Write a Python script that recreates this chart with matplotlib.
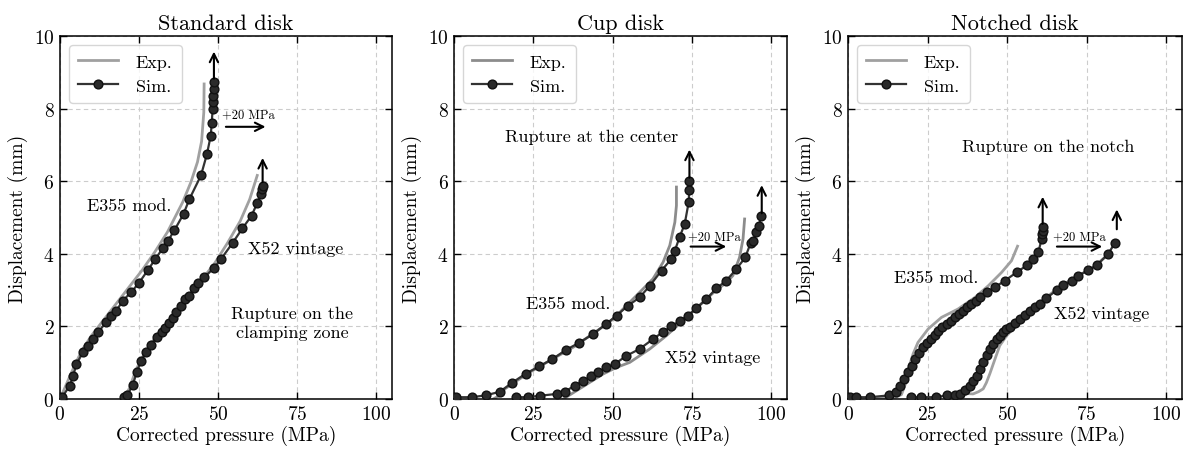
import matplotlib
matplotlib.use("Agg")
import matplotlib.pyplot as plt

plt.rcParams['font.family'] = ['cmr10', 'DejaVu Serif']
plt.rcParams['mathtext.fontset'] = 'cm'
plt.rcParams['axes.formatter.use_mathtext'] = True

titles = ["Standard disk", "Cup disk", "Notched disk"]

# ---------- Standard disk ----------
std_e355_sim_x = [0.7, 3.1, 4.2, 5.2, 7.3, 8.9, 10.5, 12.1, 14.7, 16.3, 17.8, 19.9, 22.6, 25.0, 27.8,
                  30.1, 32.5, 34.1, 36.2, 39.1, 40.9, 44.6, 46.5, 47.7, 48.0, 48.3, 48.4, 48.5, 48.6, 48.6]
std_e355_sim_y = [0.05, 0.37, 0.64, 0.96, 1.29, 1.47, 1.65, 1.84, 2.13, 2.3, 2.43, 2.71, 2.95, 3.2, 3.55,
                  3.85, 4.15, 4.35, 4.65, 5.1, 5.5, 6.16, 6.75, 7.26, 7.6, 8.0, 8.17, 8.35, 8.55, 8.73]
std_e355_exp_x = [0.0, 2.0, 4.5, 7.0, 10.0, 14.0, 18.0, 22.0, 26.0, 30.0, 34.0, 38.8, 41.4, 43.5, 44.8, 45.5, 45.6]
std_e355_exp_y = [0.0, 0.4, 0.9, 1.35, 1.75, 2.2, 2.65, 3.1, 3.55, 4.05, 4.6, 5.42, 5.97, 6.53, 7.1, 7.9, 8.68]
std_x52_sim_x = [20.3, 21.3, 23.1, 24.3, 25.7, 27.3, 28.9, 30.6, 32.3, 33.2, 34.6, 35.6, 36.7, 38.3, 39.7,
                 40.9, 42.3, 43.8, 45.6, 48.6, 50.9, 54.6, 57.7, 60.6, 62.4, 63.5, 64.0, 64.2]
std_x52_sim_y = [0.05, 0.1, 0.4, 0.75, 1.05, 1.3, 1.5, 1.7, 1.85, 1.97, 2.1, 2.22, 2.4, 2.55, 2.75,
                 2.85, 3.05, 3.2, 3.35, 3.6, 3.85, 4.3, 4.7, 5.05, 5.4, 5.65, 5.8, 5.88]
std_x52_exp_x = [20.0, 22.0, 24.0, 27.0, 31.0, 35.0, 40.0, 45.0, 49.0, 53.0, 57.0, 60.0, 62.4]
std_x52_exp_y = [0.0, 0.3, 0.8, 1.3, 1.8, 2.2, 2.75, 3.3, 3.75, 4.3, 4.9, 5.5, 6.16]

# ---------- Cup disk ----------
cup_e355_sim_x = [0.7, 5.5, 9.9, 14.4, 18.3, 22.6, 26.8, 31.0, 35.2, 39.4, 43.8, 48.0, 51.2, 54.8, 58.5,
                  61.7, 65.4, 68.5, 69.6, 71.1, 72.7, 74.0, 74.1, 74.2]
cup_e355_sim_y = [0.05, 0.05, 0.1, 0.2, 0.45, 0.7, 0.9, 1.1, 1.35, 1.55, 1.79, 2.07, 2.3, 2.57, 2.8,
                  3.12, 3.54, 3.86, 4.09, 4.46, 4.82, 5.44, 5.77, 6.02]
cup_e355_exp_x = [12.3, 14.5, 16.0, 19.7, 23.9, 30.0, 38.0, 45.9, 50.1, 54.3, 58.5, 62.7, 65.9, 68.0, 69.6, 70.1, 70.1]
cup_e355_exp_y = [0.0, 0.1, 0.28, 0.5, 0.74, 1.05, 1.45, 1.93, 2.2, 2.57, 2.94, 3.31, 3.77, 4.23, 4.87, 5.33, 5.84]
cup_x52_sim_x = [19.6, 23.3, 27.0, 32.3, 34.9, 38.0, 40.7, 43.3, 45.4, 48.0, 50.6, 54.3, 58.5, 62.7, 65.9,
                 68.5, 71.1, 73.7, 76.4, 79.5, 82.7, 85.8, 89.0, 91.8, 93.5, 94.2, 95.3, 96.1, 96.9]
cup_x52_sim_y = [0.05, 0.05, 0.09, 0.14, 0.2, 0.37, 0.5, 0.64, 0.74, 0.87, 0.96, 1.19, 1.38, 1.65, 1.85,
                 2.0, 2.15, 2.3, 2.5, 2.75, 3.05, 3.26, 3.58, 3.9, 4.3, 4.36, 4.6, 4.78, 5.04]
cup_x52_exp_x = [34.4, 38.6, 42.8, 47.0, 51.2, 55.4, 61.7, 67.0, 72.0, 77.0, 82.0, 86.0, 87.9, 90.0, 91.1, 91.6]
cup_x52_exp_y = [0.0, 0.23, 0.46, 0.69, 0.87, 1.01, 1.38, 1.75, 2.15, 2.55, 2.95, 3.22, 3.4, 3.9, 4.41, 4.96]

# ---------- Notched disk ----------
notch_e355_sim_x = [0.5, 2.5, 6.8, 12.9, 15.0, 16.3, 17.6, 18.9, 20.0, 21.0, 22.3, 23.6, 24.9, 26.2, 27.3,
                    28.3, 29.7, 31.0, 32.3, 33.6, 34.9, 36.2, 37.5, 38.8, 40.2, 41.5, 43.6, 46.2, 49.3,
                    53.0, 56.2, 58.2, 59.8, 60.9, 61.1, 61.2, 61.2]
notch_e355_sim_y = [0.05, 0.05, 0.05, 0.1, 0.2, 0.37, 0.55, 0.74, 0.92, 1.1, 1.27, 1.42, 1.54, 1.65, 1.77,
                    1.88, 1.98, 2.07, 2.16, 2.25, 2.34, 2.43, 2.53, 2.62, 2.71, 2.8, 2.94, 3.08, 3.26,
                    3.49, 3.68, 3.85, 4.04, 4.41, 4.55, 4.64, 4.75]
notch_e355_exp_x = [0.0, 10.0, 15.0, 16.8, 18.2, 19.4, 20.5, 22.0, 25.2, 29.4, 34.6, 39.9, 44.1, 48.3, 51.4, 53.3]
notch_e355_exp_y = [0.0, 0.02, 0.05, 0.12, 0.45, 0.95, 1.25, 1.56, 1.93, 2.25, 2.48, 2.8, 3.12, 3.49, 3.81, 4.21]
notch_x52_sim_x = [19.9, 23.0, 27.8, 31.0, 33.5, 35.2, 36.8, 38.2, 39.3, 40.4, 41.5, 42.5, 43.6, 44.6, 45.7,
                   46.7, 47.8, 48.8, 49.8, 50.9, 52.4, 54.0, 55.6, 57.2, 58.8, 60.3, 62.4, 65.6, 67.7,
                   70.3, 72.4, 75.6, 78.4, 81.8, 83.9]
notch_x52_sim_y = [0.05, 0.05, 0.05, 0.1, 0.12, 0.14, 0.25, 0.37, 0.5, 0.64, 0.82, 1.01, 1.2, 1.38, 1.52,
                   1.65, 1.75, 1.84, 1.92, 1.98, 2.09, 2.2, 2.32, 2.43, 2.53, 2.62, 2.78, 3.0, 3.15,
                   3.25, 3.4, 3.55, 3.7, 4.0, 4.3]
notch_x52_exp_x = [35.0, 37.5, 39.3, 41.0, 42.5, 43.5, 44.6, 46.2, 47.7, 49.9, 52.5, 57.0, 62.0, 67.0, 72.0, 77.0, 82.0]
notch_x52_exp_y = [0.08, 0.15, 0.14, 0.2, 0.28, 0.45, 0.7, 1.1, 1.47, 1.75, 1.98, 2.35, 2.78, 3.12, 3.38, 3.62, 4.0]

panels = [
    dict(sim=[(std_e355_sim_x, std_e355_sim_y), (std_x52_sim_x, std_x52_sim_y)],
         exp=[(std_e355_exp_x, std_e355_exp_y), (std_x52_exp_x, std_x52_exp_y)],
         up=[(48.7, 8.75, 9.65), (64.1, 5.9, 6.72)],
         shift=(51.6, 65.9, 7.5), shift_txt=(51.3, 7.86),
         labels=[("E355 mod.", 22.0, 5.33), ("X52 vintage", 74.5, 4.15),
                 ("Rupture on the\nclamping zone", 73.5, 2.1)]),
    dict(sim=[(cup_e355_sim_x, cup_e355_sim_y), (cup_x52_sim_x, cup_x52_sim_y)],
         exp=[(cup_e355_exp_x, cup_e355_exp_y), (cup_x52_exp_x, cup_x52_exp_y)],
         up=[(74.2, 6.02, 6.95), (97.0, 5.04, 5.97)],
         shift=(73.7, 86.7, 4.2), shift_txt=(73.7, 4.49),
         labels=[("E355 mod.", 36.0, 2.65), ("X52 vintage", 81.6, 1.15),
                 ("Rupture at the center", 43.5, 7.25)]),
    dict(sim=[(notch_e355_sim_x, notch_e355_sim_y), (notch_x52_sim_x, notch_x52_sim_y)],
         exp=[(notch_e355_exp_x, notch_e355_exp_y), (notch_x52_exp_x, notch_x52_exp_y)],
         up=[(61.2, 4.75, 5.65), (84.5, 4.6, 5.3)],
         shift=(64.8, 80.8, 4.2), shift_txt=(64.5, 4.49),
         labels=[("E355 mod.", 27.8, 3.35), ("X52 vintage", 79.7, 2.35),
                 ("Rupture on the notch", 63.0, 6.95)]),
]

fig = plt.figure(figsize=(11.87, 4.52), dpi=100)
lefts = [0.0505, 0.3826, 0.7144]
widths = [0.2797, 0.2805, 0.2814]
exp_col = ['#a0a0a0', '#8c8c8c', '#a0a0a0']

for i, p in enumerate(panels):
    ax = fig.add_axes([lefts[i], 0.115, widths[i], 0.803])
    ax.grid(True, ls=(0, (4, 3)), color='#cccccc', lw=0.8)
    ax.set_axisbelow(True)
    for k, (xs, ys) in enumerate(p['exp']):
        ax.plot(xs, ys, color=exp_col[i], lw=2.0, label='Exp.' if k == 0 else None, zorder=2)
    for k, (xs, ys) in enumerate(p['sim']):
        ax.plot(xs, ys, color='#333333', lw=1.6, marker='o', ms=6.3, mfc='#2a2a2a', mec='#111111',
                label='Sim.' if k == 0 else None, zorder=3)
    for (x, y0, y1) in p['up']:
        ax.annotate('', xy=(x, y1), xytext=(x, y0),
                    arrowprops=dict(arrowstyle='->', lw=1.5, color='black', mutation_scale=15), zorder=4)
    x0, x1, yy = p['shift']
    ax.annotate('', xy=(x1, yy), xytext=(x0, yy),
                arrowprops=dict(arrowstyle='->', lw=1.5, color='black', mutation_scale=15))
    ax.text(p['shift_txt'][0], p['shift_txt'][1], '+20 MPa', fontsize=9, ha='left', va='center')
    for (t, x, y) in p['labels']:
        ax.text(x, y, t, fontsize=13, ha='center', va='center', linespacing=1.3)
    ax.set_xlim(0, 105)
    ax.set_ylim(0, 10)
    ax.set_xticks([0, 25, 50, 75, 100])
    ax.set_yticks([0, 2, 4, 6, 8, 10])
    ax.tick_params(direction='in', top=True, right=True, labelsize=14, length=5, width=1, pad=4)
    for s in ax.spines.values():
        s.set_linewidth(1.1)
    ax.set_xlabel('Corrected pressure (MPa)', fontsize=14, labelpad=2)
    ax.set_ylabel('Displacement (mm)', fontsize=14, labelpad=4)
    ax.set_title(titles[i], fontsize=16, pad=5)
    ax.legend(loc='upper left', fontsize=13, framealpha=0.8, handlelength=2.2,
              handletextpad=1.0, borderaxespad=0.5, labelspacing=0.45, borderpad=0.5)

fig.savefig('out.png', dpi=100)
